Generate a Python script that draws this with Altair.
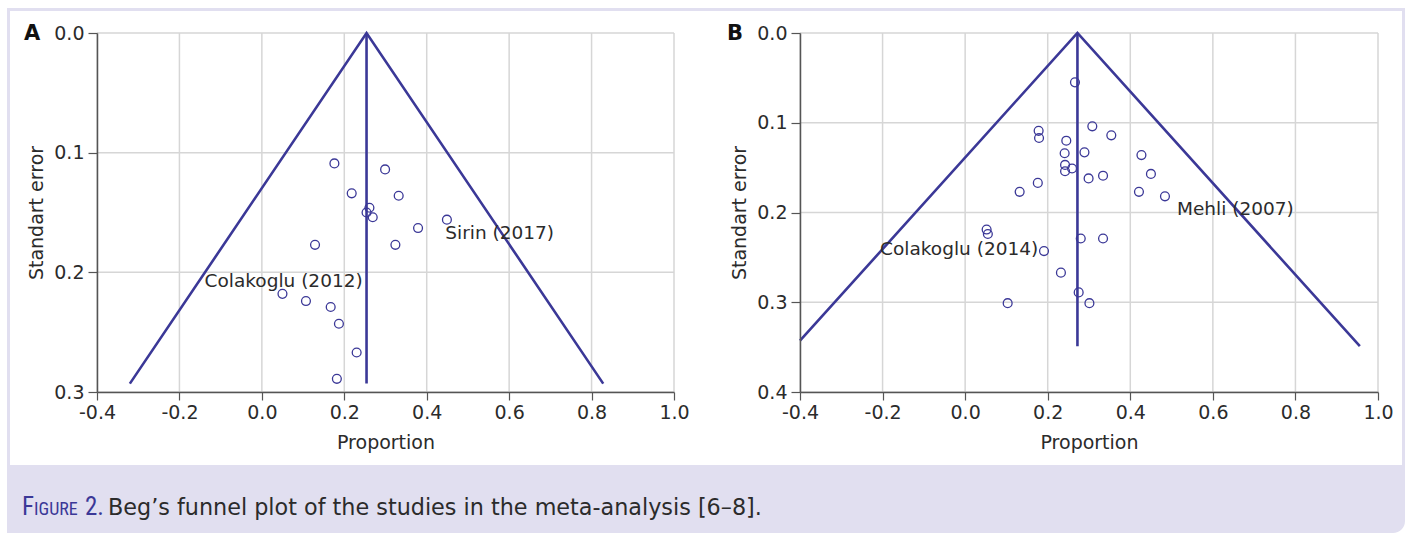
import altair as alt
import pandas as pd

LINE = "#3b3897"
GRID = "#d6d6d6"
LAV = "#e1dff0"
TEXT = "#2b2b2b"
FONT = "DejaVu Sans"
NARROW = "Liberation Sans Narrow, Roboto Condensed, DejaVu Sans Condensed, Liberation Sans"

# ---------------- data ----------------
x_ticks = [-0.4, -0.2, 0.0, 0.2, 0.4, 0.6, 0.8, 1.0]
a_y_ticks = [0.0, 0.1, 0.2, 0.3]
b_y_ticks = [0.0, 0.1, 0.2, 0.3, 0.4]

a_prop = [0.176, 0.299, 0.218, 0.332, 0.261, 0.254, 0.269, 0.449, 0.379,
          0.129, 0.324, 0.050, 0.107, 0.167, 0.187, 0.230, 0.182]
a_se = [0.109, 0.114, 0.134, 0.136, 0.146, 0.150, 0.154, 0.156, 0.163,
        0.177, 0.177, 0.218, 0.224, 0.229, 0.243, 0.267, 0.289]
a_center = 0.254
a_se_max = 0.293
a_labels = ["Colakoglu (2012)", "Sirin (2017)"]
a_label_x = [-0.139, 0.445]
a_label_y = [0.207, 0.167]

b_prop = [0.266, 0.308, 0.178, 0.179, 0.354, 0.245, 0.241, 0.289, 0.427,
          0.242, 0.259, 0.242, 0.299, 0.334, 0.450, 0.176, 0.132, 0.421,
          0.484, 0.052, 0.055, 0.280, 0.334, 0.191, 0.232, 0.275, 0.103, 0.301]
b_se = [0.055, 0.104, 0.109, 0.117, 0.114, 0.120, 0.134, 0.133, 0.136,
        0.147, 0.151, 0.154, 0.162, 0.159, 0.157, 0.167, 0.177, 0.177,
        0.182, 0.219, 0.224, 0.229, 0.229, 0.243, 0.267, 0.289, 0.301, 0.301]
b_center = 0.272
b_se_max = 0.349
b_labels = ["Colakoglu (2014)", "Mehli (2007)"]
b_label_x = [-0.206, 0.513]
b_label_y = [0.241, 0.196]

caption_head = ["F", "IGURE", "2."]
caption_body = "Beg\u2019s funnel plot of the studies in the meta-analysis [6\u20138]."

H = 359
FMT = "datum.value < 0 ? '-' + format(-datum.value, '.1f') : format(datum.value, '.1f')"
one = pd.DataFrame({"k": [0]})


def panel(letter, prop, se, center, se_max, y_ticks, labels, lx, ly,
          width, lav_x, lav_x2, white_x, white_x2):
    xs = alt.Scale(domain=[-0.4, 1.0], nice=False, zero=False)
    ys = alt.Scale(domain=[0, y_ticks[-1]], reverse=True, nice=False, zero=False)
    xaxis = alt.Axis(values=x_ticks, labelExpr=FMT, title="Proportion", grid=False,
                     zindex=1, tickSize=8, labelPadding=3, titlePadding=11,
                     labelFlush=False, labelOverlap=False)
    yaxis = alt.Axis(values=y_ticks, labelExpr=FMT, title="Standart error", grid=False,
                     zindex=1, tickSize=9, labelPadding=4, titlePadding=7,
                     labelFlush=False, labelOverlap=False)

    lav = alt.Chart(one).mark_rect(color=LAV).encode(
        x=alt.value(lav_x), x2=alt.value(lav_x2), y=alt.value(-25), y2=alt.value(432))
    white = alt.Chart(one).mark_rect(color="white").encode(
        x=alt.value(white_x), x2=alt.value(white_x2), y=alt.value(-22), y2=alt.value(432))

    vgrid = alt.Chart(pd.DataFrame({"t": x_ticks})).mark_rule(
        color=GRID, strokeWidth=1.5).encode(
        x=alt.X("t:Q", scale=xs, axis=xaxis), y=alt.value(0), y2=alt.value(H))
    hgrid = alt.Chart(pd.DataFrame({"t": y_ticks})).mark_rule(
        color=GRID, strokeWidth=1.5).encode(
        y=alt.Y("t:Q", scale=ys, axis=yaxis), x=alt.value(0), x2=alt.value(width))

    left_x = max(-0.4, center - 1.96 * se_max)
    left_se = (center - left_x) / 1.96
    fdf = pd.DataFrame({"x": [left_x, center, center + 1.96 * se_max],
                        "y": [left_se, 0.0, se_max]})
    funnel = alt.Chart(fdf).mark_line(color=LINE, strokeWidth=2.6).encode(
        x=alt.X("x:Q", scale=xs, axis=xaxis), y=alt.Y("y:Q", scale=ys, axis=yaxis))
    vline = alt.Chart(pd.DataFrame({"x": [center], "y": [0.0], "y2": [se_max]})).mark_rule(
        color=LINE, strokeWidth=2.6).encode(
        x=alt.X("x:Q", scale=xs, axis=xaxis), y=alt.Y("y:Q", scale=ys, axis=yaxis), y2="y2:Q")

    pts = alt.Chart(pd.DataFrame({"x": prop, "y": se})).mark_point(
        shape="circle", filled=False, color=LINE, size=78, strokeWidth=1.3, opacity=1).encode(
        x=alt.X("x:Q", scale=xs, axis=xaxis), y=alt.Y("y:Q", scale=ys, axis=yaxis))

    lab = alt.Chart(pd.DataFrame({"x": lx, "y": ly, "t": labels})).mark_text(
        align="left", baseline="middle", font=FONT, fontSize=18.5, color=TEXT).encode(
        x=alt.X("x:Q", scale=xs, axis=xaxis), y=alt.Y("y:Q", scale=ys, axis=yaxis), text="t:N")

    let = alt.Chart(one).mark_text(
        text=letter, align="left", baseline="middle", font=FONT, fontSize=21,
        fontWeight="bold", color="#111111").encode(x=alt.value(-73), y=alt.value(1))

    return alt.layer(lav, white, vgrid, hgrid, funnel, vline, pts, lab, let).properties(
        width=width, height=H)


pa = panel("A", a_prop, a_se, a_center, a_se_max, a_y_ticks, a_labels, a_label_x, a_label_y,
           577, -90, 607, -87, 607)
pb = panel("B", b_prop, b_se, b_center, b_se_max, b_y_ticks, b_labels, b_label_x, b_label_y,
           578, -96, 605, -96, 602)

# caption: its origin lines up with panel A's plot area (x = 97 on the page)
CW = 1308
cap_bg = alt.Chart(one).mark_rect(color=LAV, cornerRadiusBottomRight=12).encode(
    x=alt.value(-90), x2=alt.value(CW), y=alt.value(0), y2=alt.value(68))
c1 = alt.Chart(one).mark_text(text=caption_head[0], align="left", baseline="alphabetic",
                              font=NARROW, fontSize=25, color=LINE).encode(
    x=alt.value(-75), y=alt.value(50))
c2 = alt.Chart(one).mark_text(text=caption_head[1], align="left", baseline="alphabetic",
                              font=NARROW, fontSize=18, color=LINE).encode(
    x=alt.value(-63), y=alt.value(50))
c3 = alt.Chart(one).mark_text(text=caption_head[2], align="left", baseline="alphabetic",
                              font=NARROW, fontSize=25, color=LINE).encode(
    x=alt.value(-12), y=alt.value(50))
c4 = alt.Chart(one).mark_text(text=caption_body, align="left", baseline="alphabetic",
                              font=FONT, fontSize=22.3, color=TEXT).encode(
    x=alt.value(11), y=alt.value(50))
cap = alt.layer(cap_bg, c1, c2, c3, c4).properties(width=CW, height=68)

chart = alt.vconcat(alt.hconcat(pa, pb, spacing=0), cap, spacing=0).properties(
    padding={"left": 7, "top": 8, "right": 5, "bottom": 0}, background="white"
).configure_view(strokeWidth=0).configure_axis(
    domainColor="#555555", domainWidth=1.5, tickColor="#555555", tickWidth=1.2,
    labelFont=FONT, labelFontSize=19, labelColor=TEXT,
    titleFont=FONT, titleFontSize=19, titleFontWeight="normal", titleColor=TEXT)

chart.save("out.html", embed_options={"renderer": "svg", "actions": False})
